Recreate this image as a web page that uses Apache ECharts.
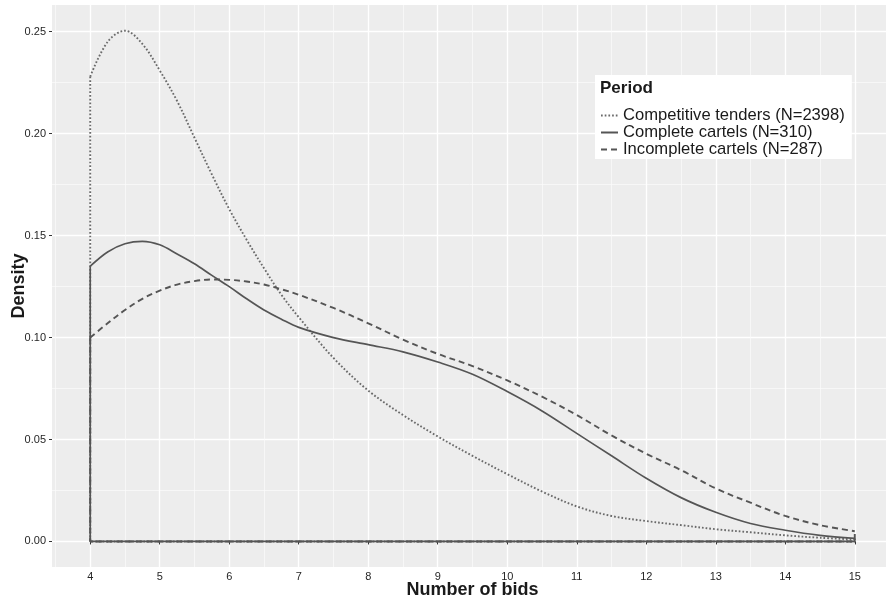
<!DOCTYPE html>
<html><head><meta charset="utf-8">
<script src="https://cdn.jsdelivr.net/npm/echarts@6/dist/echarts.min.js"></script>
<style>html,body{margin:0;padding:0;background:#fff}#c{width:886px;height:599px}</style>
</head><body><div id="c"></div>
<script>
// ---- data ----
const bidsX = [4,4.25,4.5,4.75,5,5.25,5.5,5.75,6,6.25,6.5,6.75,7,7.5,8,8.5,9,9.5,10,10.5,11,11.5,12,12.5,13,13.5,14,14.5,15];
const competitive = [0.228,0.245,0.2505,0.244,0.231,0.216,0.198,0.180,0.163,0.148,0.134,0.121,0.110,0.090,0.074,0.062,0.0515,0.042,0.033,0.0245,0.0172,0.0125,0.010,0.008,0.006,0.0045,0.003,0.0018,0.001];
const complete = [0.135,0.142,0.146,0.1472,0.1455,0.141,0.1362,0.1305,0.125,0.119,0.1135,0.109,0.105,0.100,0.0965,0.093,0.088,0.082,0.0735,0.064,0.053,0.042,0.031,0.0215,0.0143,0.0088,0.0055,0.003,0.0015];
const incomplete = [0.100,0.107,0.1135,0.119,0.123,0.126,0.1277,0.1285,0.1283,0.1275,0.126,0.1237,0.121,0.1145,0.107,0.099,0.092,0.086,0.079,0.071,0.062,0.052,0.043,0.035,0.026,0.019,0.0125,0.008,0.005];
const seriesNames = ['Competitive tenders (N=2398)','Complete cartels (N=310)','Incomplete cartels (N=287)'];
const xTicks = [4,5,6,7,8,9,10,11,12,13,14,15];
const xMinor = [3.5,4.5,5.5,6.5,7.5,8.5,9.5,10.5,11.5,12.5,13.5,14.5,15.5];
const yTicks = [0,0.05,0.10,0.15,0.20,0.25];
const yMinor = [0.025,0.075,0.125,0.175,0.225];

const font = 'Liberation Sans, Arial, sans-serif';
const lineCol = '#555555';
const styles = [
  {color:'#6a6a6a', width:1.9, type:[1.7,2.0]},
  {color:lineCol, width:1.7, type:'solid'},
  {color:lineCol, width:1.9, type:[6,4]}
];
const curves = [competitive, complete, incomplete];

const series = [];
curves.forEach((vals, i) => {
  series.push({
    name: seriesNames[i], type:'line', xAxisIndex:0, yAxisIndex:0,
    data: bidsX.map((x,k)=>[x, vals[k]]),
    smooth: 0.35, symbol:'none', z: 3 + i,
    lineStyle: styles[i], itemStyle:{color: styles[i].color}
  });
  const last = vals.length - 1;
  series.push({
    type:'line', xAxisIndex:0, yAxisIndex:0,
    data: [[bidsX[0], vals[0]],[bidsX[0],0],[bidsX[last],0],[bidsX[last], vals[last]]],
    symbol:'none', z: 3 + i, silent:true,
    lineStyle: styles[i]
  });
});

const chart = echarts.init(document.getElementById('c'), null, {renderer:'canvas'});
chart.setOption({
  animation:false,
  backgroundColor:'#ffffff',
  textStyle:{fontFamily:font},
  title:{text:'Period', left:600, top:80, textStyle:{fontFamily:font, fontSize:17, fontWeight:'bold', color:'#1a1a1a'}, padding:0, z:10},
  legend:{
    data: seriesNames, orient:'vertical', left:595, top:75,
    backgroundColor:'#ffffff', padding:[32,7,1,5],
    itemWidth:17, itemHeight:17.3, itemGap:0,
    itemStyle:{opacity:0},
    textStyle:{fontFamily:font, fontSize:16.6, color:'#1a1a1a', lineHeight:17},
    z:8
  },
  grid:{left:52, top:5, width:841, height:562, show:true, backgroundColor:'#ededed', borderWidth:0, containLabel:false, outerBoundsMode:'none'},
  xAxis:[{
    type:'value', min:3.45, max:15.55,
    name:'Number of bids', nameLocation:'middle', nameGap:14, nameMoveOverlap:false,
    nameTextStyle:{fontFamily:font, fontSize:18, fontWeight:'bold', color:'#1a1a1a'},
    axisLine:{show:false},
    axisTick:{show:true, length:3, customValues:xTicks, lineStyle:{color:'#333'}},
    axisLabel:{customValues:xTicks, margin:4, fontSize:11, color:'#262626', fontFamily:font},
    splitLine:{show:true, lineStyle:{color:'#ffffff', width:1.4}}
  },{
    type:'value', min:3.45, max:15.55, position:'top',
    axisLine:{show:false}, axisLabel:{show:false},
    axisTick:{show:false, customValues:xMinor},
    splitLine:{show:true, lineStyle:{color:'#fafafa', width:0.7}}
  }],
  yAxis:[{
    type:'value', min:-0.01253, max:0.2631,
    name:'Density', nameLocation:'middle', nameGap:24, nameRotate:90, nameMoveOverlap:false,
    nameTextStyle:{fontFamily:font, fontSize:18, fontWeight:'bold', color:'#1a1a1a'},
    axisLine:{show:false},
    axisTick:{show:true, length:3, customValues:yTicks, lineStyle:{color:'#333'}},
    axisLabel:{customValues:yTicks, margin:6, fontSize:11, color:'#262626', fontFamily:font, formatter:v=>v.toFixed(2)},
    splitLine:{show:true, lineStyle:{color:'#ffffff', width:1.4}}
  },{
    type:'value', min:-0.01253, max:0.2631, position:'right',
    axisLine:{show:false}, axisLabel:{show:false},
    axisTick:{show:false, customValues:yMinor},
    splitLine:{show:true, lineStyle:{color:'#fafafa', width:0.7}}
  }],
  series: series
});
</script></body></html>
